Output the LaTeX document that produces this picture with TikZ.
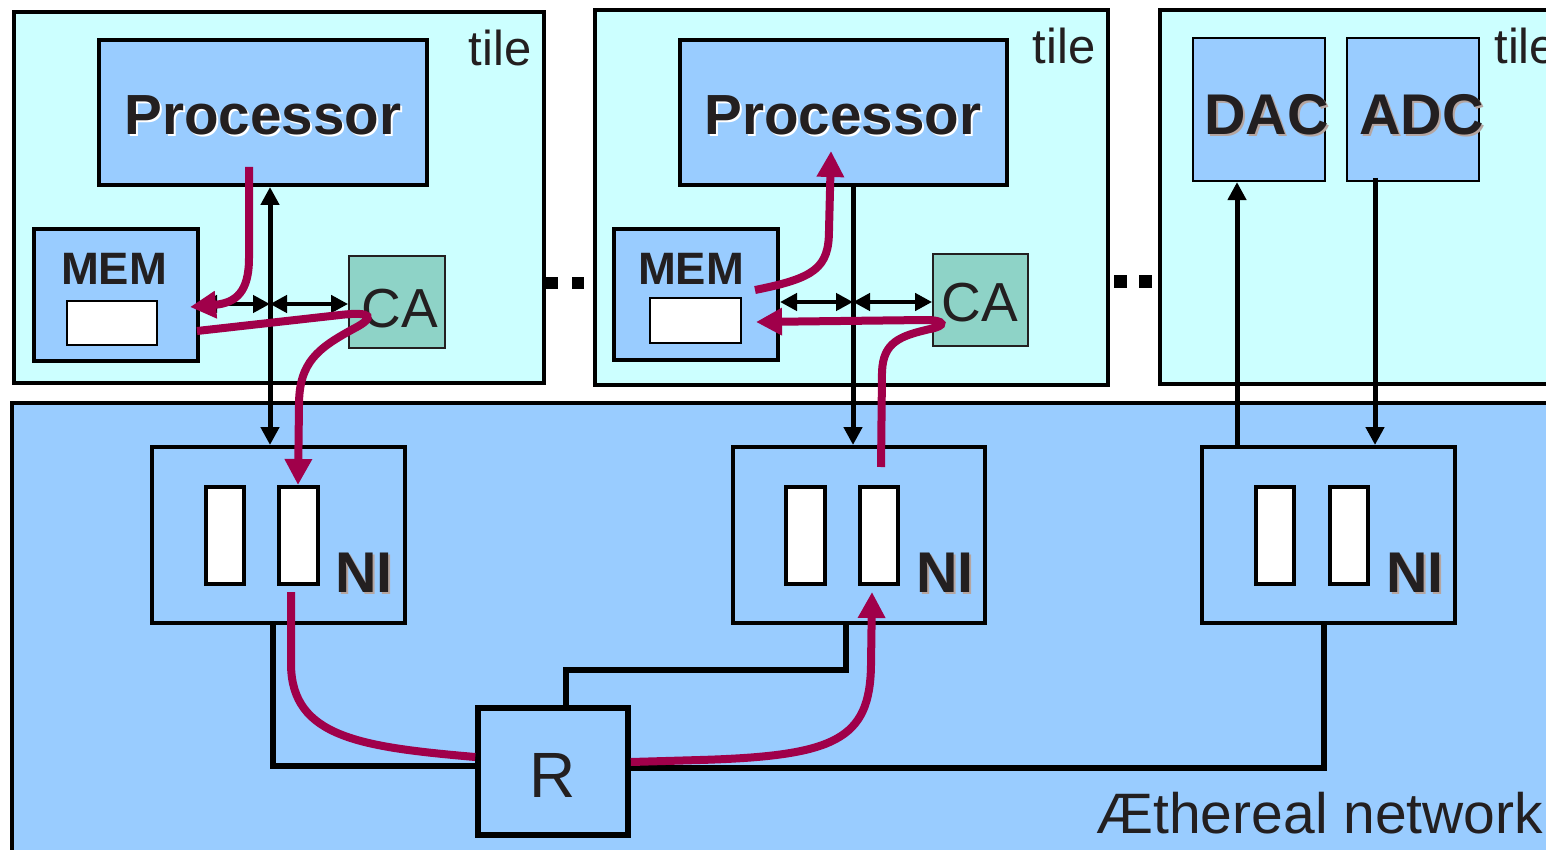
\documentclass[tikz,border=0pt]{standalone}
\usepackage{fontspec}
\setmainfont{Liberation Sans}
\usetikzlibrary{arrows.meta,fit}
\definecolor{tilec}{HTML}{CCFFFF}
\definecolor{bluec}{HTML}{99CCFF}
\definecolor{cac}{HTML}{8ED3C7}
\definecolor{magc}{HTML}{A0004A}
\definecolor{txtc}{HTML}{231F20}
\definecolor{shc}{HTML}{B5A5A0}
\begin{document}
\begin{tikzpicture}[x=0.5pt,y=-0.5pt,
 tilebox/.style={draw=black,fill=tilec,line width=2pt,inner sep=0pt},
 bluebox/.style={draw=black,fill=bluec,line width=2pt,inner sep=0pt},
 thinblue/.style={draw=black,fill=bluec,line width=1.1pt,inner sep=0pt},
 cabox/.style={draw=txtc,fill=cac,line width=0.9pt,inner sep=0pt},
 slot/.style={draw=black,fill=white,line width=2pt,inner sep=0pt},
 memslot/.style={draw=black,fill=white,line width=1.2pt,inner sep=0pt},
 rbox/.style={draw=black,fill=bluec,line width=2.8pt,inner sep=0pt},
 lbl/.style={inner sep=0pt,anchor=base,text=txtc},
 proclbl/.style={lbl,font=\bfseries\fontsize{28.3pt}{32pt}\selectfont},
 memlbl/.style={lbl,font=\bfseries\fontsize{22.7pt}{26pt}\selectfont},
 blbl/.style={lbl,font=\bfseries\fontsize{28.7pt}{32pt}\selectfont},
 calbl/.style={lbl,font=\fontsize{27.5pt}{30pt}\selectfont},
 tilelbl/.style={lbl,font=\fontsize{24.5pt}{28pt}\selectfont},
 rlbl/.style={lbl,font=\fontsize{32pt}{36pt}\selectfont},
 netlbl/.style={lbl,font=\fontsize{28.5pt}{32pt}\selectfont},
 wire/.style={draw=black,line width=2.9pt},
 barrow/.style={draw=black,line width=2.5pt,arrows={-{Triangle[length=9pt,width=9pt]}}},
 bdarrow/.style={draw=black,line width=2.3pt,arrows={{Triangle[length=8.5pt,width=8.5pt]}-{Triangle[length=8.5pt,width=8.5pt]}}},
 magpath/.style={draw=magc,line width=4pt,arrows={-{Triangle[length=13pt,width=13pt]}}},
 magline/.style={draw=magc,line width=4pt}
]
\useasboundingbox (0,0) rectangle (1546,850);
\fill[white] (0,0) rectangle (1546,850);
\clip (0,0) rectangle (1546,850);

% tiles and network
\node[tilebox,fit={(14,12) (544,383)}] (tile1) {};
\node[tilebox,fit={(595,10) (1108,385)}] (tile2) {};
\node[tilebox,fit={(1160,10) (1570,384)}] (tile3) {};
\node[bluebox,fit={(12,403) (1570,880)}] (net) {};

% ellipsis dots
\fill[black] (546,277) rectangle (558,289);
\fill[black] (572,277) rectangle (584,289);
\fill[black] (1114,275) rectangle (1127,288);
\fill[black] (1139,275) rectangle (1152,288);

% tile labels
\node[tilelbl,anchor=base east] (t1lbl) at (532,66) {tile};
\node[tilelbl,anchor=base east] (t2lbl) at (1096,64) {tile};
\node[tilelbl,anchor=base west] (t3lbl) at (1494,64) {tile};

% tile 1
\node[bluebox,fit={(99,40) (427,185)}] (proc1) {};
\node[proclbl,text=white] (p1sh) at (265,137) {Processor};
\node[proclbl] (p1t) at (263,135) {Processor};
\node[bluebox,fit={(34,229) (198,361)}] (mem1) {};
\node[memlbl] (m1t) at (114,285) {MEM};
\node[memslot,fit={(67,301) (157,345)}] (mem1s) {};
\node[cabox,fit={(349,256) (445,348)}] (ca1) {};
\node[calbl] (ca1t) at (400,327) {CA};

% tile 2
\node[bluebox,fit={(680,40) (1007,185)}] (proc2) {};
\node[proclbl,text=white] (p2sh) at (845,137) {Processor};
\node[proclbl] (p2t) at (843,135) {Processor};
\node[bluebox,fit={(614,229) (778,360)}] (mem2) {};
\node[memlbl] (m2t) at (691,285) {MEM};
\node[memslot,fit={(650,298) (741,343)}] (mem2s) {};
\node[cabox,fit={(933,254) (1028,346)}] (ca2) {};
\node[calbl] (ca2t) at (980,321) {CA};

% tile 3
\node[thinblue,fit={(1193,38) (1325,181)}] (dac) {};
\node[thinblue,fit={(1347,38) (1479,181)}] (adc) {};
\node[blbl,text=shc,anchor=base west] (dacsh) at (1206,137) {DAC};
\node[blbl,anchor=base west] (dact) at (1204,135) {DAC};
\node[blbl,text=shc,anchor=base west] (adcsh) at (1361,137) {ADC};
\node[blbl,anchor=base west] (adct) at (1359,135) {ADC};

% NIs
\node[bluebox,fit={(152,447) (405,623)}] (ni1) {};
\node[slot,fit={(206,487) (244,584)}] (ni1a) {};
\node[slot,fit={(279,487) (318,584)}] (ni1b) {};
\node[blbl,text=shc,anchor=base west] (ni1sh) at (337,594) {NI};
\node[blbl,anchor=base west] (ni1t) at (335,592) {NI};

\node[bluebox,fit={(733,447) (985,623)}] (ni2) {};
\node[slot,fit={(786,487) (825,584)}] (ni2a) {};
\node[slot,fit={(860,487) (898,584)}] (ni2b) {};
\node[blbl,text=shc,anchor=base west] (ni2sh) at (918,594) {NI};
\node[blbl,anchor=base west] (ni2t) at (916,592) {NI};

\node[bluebox,fit={(1202,447) (1455,623)}] (ni3) {};
\node[slot,fit={(1256,487) (1294,584)}] (ni3a) {};
\node[slot,fit={(1330,487) (1368,584)}] (ni3b) {};
\node[blbl,text=shc,anchor=base west] (ni3sh) at (1388,594) {NI};
\node[blbl,anchor=base west] (ni3t) at (1386,592) {NI};

% router
\node[rbox,fit={(478,708) (628,835)}] (r) {};
\node[rlbl] (rt) at (553,797) {R};

\node[netlbl,anchor=base west] (netname) at (1096,833) {Æthereal network};

% wires
\draw[wire] (273,0 |- ni1.south) |- (r.west |- 0,766);
\draw[wire] (566,0 |- r.north) |- (846,670) -- (846,0 |- ni2.south);
\draw[wire] (r.east |- 0,768) -| (1324,0 |- ni3.south);

% black arrows tile 1
\draw[barrow,{Triangle[length=9pt,width=9pt]}-{Triangle[length=9pt,width=9pt]}] (270,0 |- proc1.south) -- (270,0 |- ni1.north);
\draw[bdarrow] (mem1.east |- 0,304) -- (270,304);
\draw[bdarrow] (270,304) -- (ca1.west |- 0,304);
% tile 2
\draw[barrow] (853,0 |- proc2.south) -- (853,0 |- ni2.north);
\draw[bdarrow] (mem2.east |- 0,302) -- (853,302);
\draw[bdarrow] (853,302) -- (ca2.west |- 0,302);
% tile 3
\draw[barrow] (1237,0 |- ni3.north) -- (1237,0 |- dac.south);
\draw[barrow] (1375,178) -- (1375,0 |- ni3.north);

% magenta paths
\draw[magpath] (249,167) -- (249,258) .. controls (249,292) and (236,303) .. (190,307);
\draw[magpath] (197,331) -- (340,315) .. controls (374,311) and (374,318) .. (355,328)
  .. controls (318,348) and (299,362) .. (299,405) -- (298,0 |- ni1b.north);
\draw[magline] (291,592) -- (291,665) .. controls (292,737) and (360,747) .. (r.west |- 0,757);
\draw[magpath] (r.east |- 0,762) -- (700,760) .. controls (835,756) and (870,740) .. (871,665) -- (872,592);
\draw[magpath] (881,467) -- (882,372) .. controls (883,342) and (900,336) .. (930,329)
  .. controls (946,326) and (946,320) .. (925,320) -- (756,322);
\draw[magpath] (755,290) .. controls (815,278) and (829,268) .. (829,230) -- (831,151);
\end{tikzpicture}
\end{document}
